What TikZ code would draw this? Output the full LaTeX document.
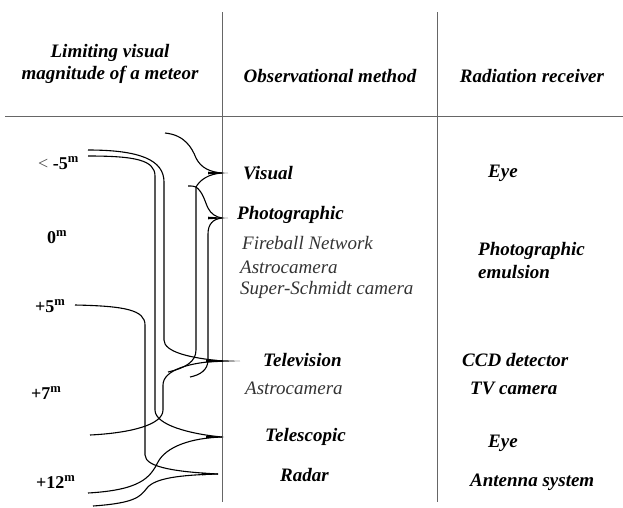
\documentclass[tikz,border=0pt]{standalone}
\usepackage{fontspec}
\setmainfont{Liberation Serif}
\begin{document}
\begin{tikzpicture}[x=1pt,y=-1pt,
  hdr/.style={font=\fontsize{19}{22}\selectfont\bfseries\itshape, align=center, inner sep=0},
  lbl/.style={font=\fontsize{19}{23}\selectfont\bfseries\itshape, anchor=west, inner sep=0},
  sub/.style={font=\fontsize{19}{23}\selectfont\itshape, text=black!80, anchor=west, inner sep=0},
  mag/.style={font=\fontsize{18}{20}\selectfont\bfseries, inner sep=0, anchor=west},
  curve/.style={line width=1.1pt},
  rule/.style={line width=0.6pt, black!60}]
\useasboundingbox (0,0) rectangle (623,507);

% table rules
\coordinate (d1t) at (222,12); \coordinate (d1b) at (222,502);
\coordinate (d2t) at (437,12); \coordinate (d2b) at (437,502);
\coordinate (hl) at (5,116); \coordinate (hr) at (623,116);
\draw[rule] (d1t) -- (d1b);
\draw[rule] (d2t) -- (d2b);
\draw[rule] (hl) -- (hr);

% headers
\node[hdr] (h1) at (110,64) {Limiting visual\\magnitude of a meteor};
\node[hdr] (h2) at (330,76) {Observational method};
\node[hdr] (h3) at (532,76) {Radiation receiver};

% magnitudes
\node[mag] (m1) at (38,163) {\mdseries\color{black!70}<\ \color{black}\bfseries -5\textsuperscript{m}};
\node[mag] (m2) at (47,237) {0\textsuperscript{m}};
\node[mag] (m3) at (35,306) {+5\textsuperscript{m}};
\node[mag] (m4) at (31,393) {+7\textsuperscript{m}};
\node[mag] (m5) at (36,482) {+12\textsuperscript{m}};

% methods
\node[lbl] (visual) at (243,173) {Visual};
\node[lbl] (photo) at (237,215) {Photographic};
\node[sub] (fire) at (242,243) {Fireball Network};
\node[sub] (astro1) at (240,267) {Astrocamera};
\node[sub] (schmidt) at (240,290) {Super-Schmidt camera};
\node[lbl] (tv) at (263,360) {Television};
\node[sub] (astro2) at (245,388) {Astrocamera};
\node[lbl] (tele) at (265,437) {Telescopic};
\node[lbl] (radar) at (280,475) {Radar};

% receivers
\node[lbl] (eye1) at (488,173) {Eye};
\node[lbl, align=left] (emul) at (478,261) {Photographic\\emulsion};
\node[lbl] (ccd) at (462,360) {CCD detector};
\node[lbl] (tvcam) at (470,388) {TV camera};
\node[lbl] (eye2) at (488,443) {Eye};
\node[lbl] (ant) at (470,482) {Antenna system};

% brace tips
\coordinate (tV) at (222,173);
\coordinate (tP) at (222,218);
\coordinate (tT) at (222,361);
\coordinate (tS) at (222,437);
\coordinate (tR) at (218,474);
\fill (tV) ++(-14,-1.3) -- ++(20,1.3) -- ++(-20,1.3) -- cycle;
\fill (tP) ++(-14,-1.3) -- ++(20,1.3) -- ++(-20,1.3) -- cycle;
\fill (tT) ++(-16,-1.5) -- ++(34,1.5) -- ++(-34,1.5) -- cycle;
\fill (tS) ++(-16,-1.3) -- ++(18,1.3) -- ++(-18,1.3) -- cycle;
\fill (tR) ++(-16,-1.3) -- ++(16,1.3) -- ++(-16,1.3) -- cycle;

% free ends
\coordinate (vTop) at (165,133);
\coordinate (vMid) at (196,187);
\coordinate (vHook) at (188,186);
\coordinate (a196) at (168,372);
\coordinate (a208) at (190,377);
\coordinate (s5a) at (88,150);
\coordinate (s5b) at (88,156);
\coordinate (s5) at (75,305);
\coordinate (s7) at (90,435);
\coordinate (s12) at (88,493);
\coordinate (s13) at (93,506);

% Visual brace
\draw[curve] (vTop) .. controls (185,135) and (192,148) .. (196,158)
  .. controls (201,168) and (210,172) .. (tV);
\draw[curve] (tV) .. controls (208,174) and (200,180) .. (vMid);
\draw[curve] (vMid) .. controls (193,186) .. (vHook);
% Photographic brace
\draw[curve] (vMid) .. controls (203,192) and (205,202) .. (208,208)
  .. controls (211,214) and (216,217) .. (tP);
\draw[curve] (vMid) -- (196,350) .. controls (196,362) and (185,368) .. (a196);
\draw[curve] (tP) .. controls (213,219) and (208,224) .. (208,234)
  -- (208,360) .. controls (208,370) and (200,375) .. (a208);

% magnitude lines
\draw[curve] (s5a) .. controls (140,150) and (164,160) .. (164,182)
  -- (164,340) .. controls (164,352) and (190,358) .. (tT);
\draw[curve] (s5b) .. controls (135,156) and (155,160) .. (155,176)
  -- (155,410) .. controls (155,425) and (190,434) .. (tS);
\draw[curve] (tT) .. controls (190,362) and (163,370) .. (163,385)
  -- (163,410) .. controls (163,425) and (130,433) .. (s7);
\draw[curve] (s5) .. controls (125,306) and (145,310) .. (145,325)
  -- (145,455) .. controls (145,468) and (180,472) .. (tR);
\draw[curve] (s12) .. controls (140,490) and (150,478) .. (158,462)
  .. controls (166,447) and (190,438) .. (tS);
\draw[curve] (s13) .. controls (135,503) and (140,497) .. (147,488)
  .. controls (155,478) and (180,475) .. (tR);
\end{tikzpicture}
\end{document}
